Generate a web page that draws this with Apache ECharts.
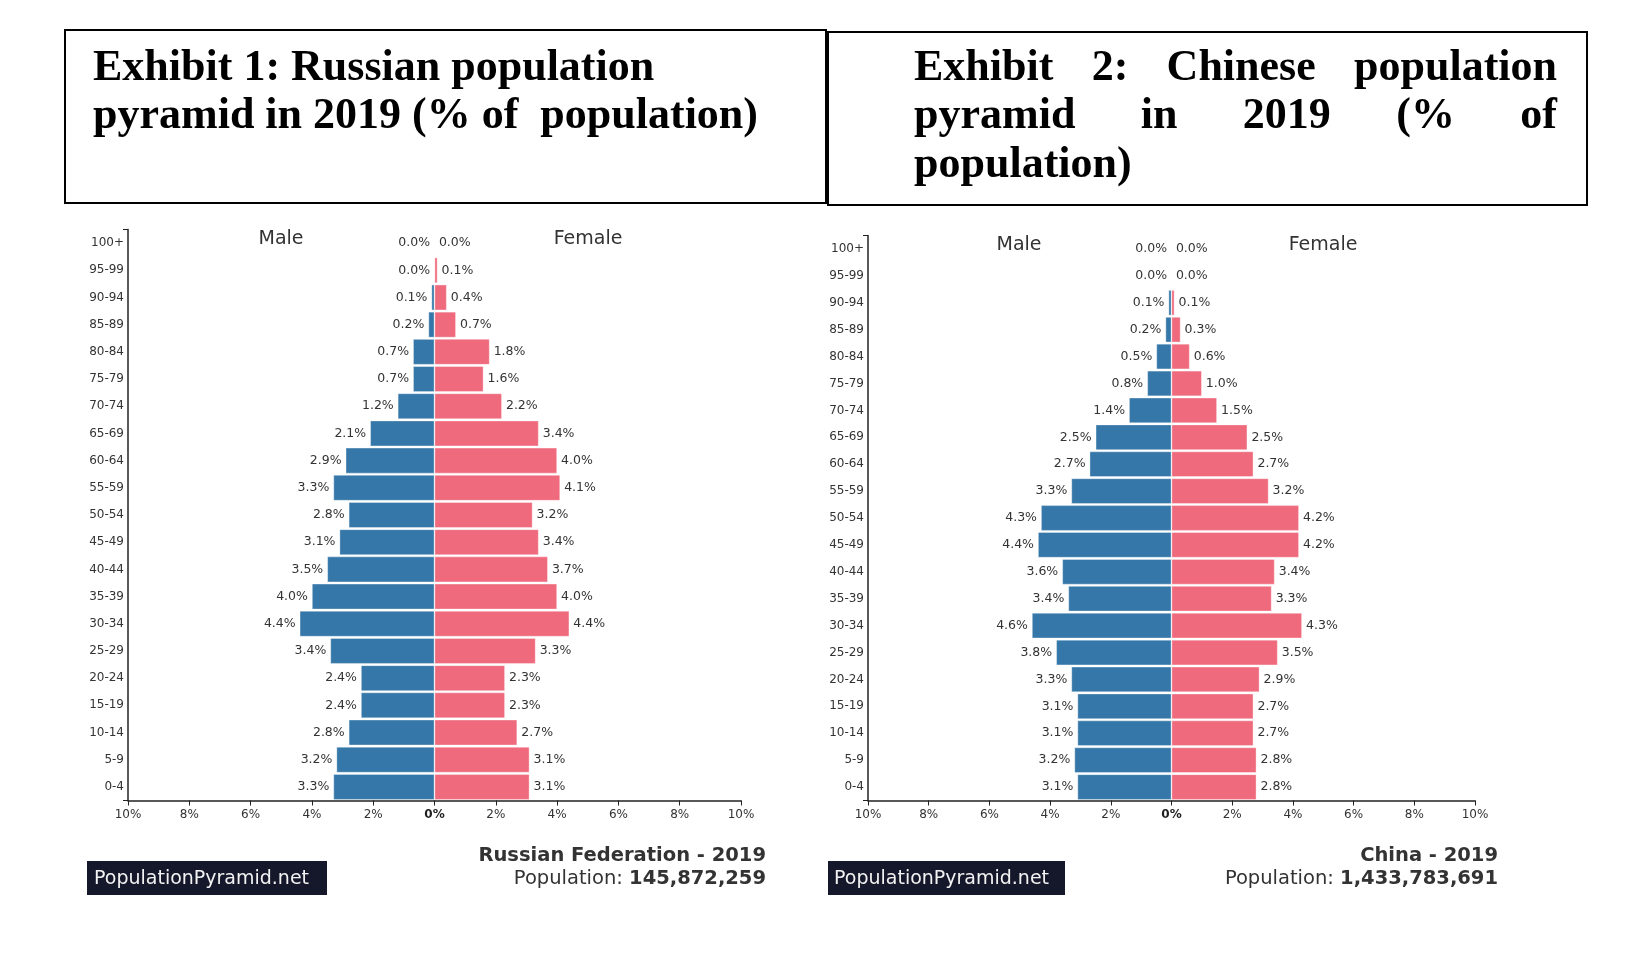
<!DOCTYPE html>
<html>
<head>
<meta charset="utf-8">
<title>Russian and Chinese population pyramids 2019</title>
<script src="https://cdn.jsdelivr.net/npm/echarts@6/dist/echarts.min.js"></script>
<style>
  html, body { margin: 0; padding: 0; background: #fff; }
  #main { width: 1642px; height: 968px; }
</style>
</head>
<body>
<div id="main"></div>
<script type="text/javascript">
  // age groups, bottom to top
  var ages = ['0-4', '5-9', '10-14', '15-19', '20-24', '25-29', '30-34', '35-39', '40-44', '45-49',
              '50-54', '55-59', '60-64', '65-69', '70-74', '75-79', '80-84', '85-89', '90-94', '95-99', '100+'];

  // % of population
  var ruMale   = [3.3, 3.2, 2.8, 2.4, 2.4, 3.4, 4.4, 4.0, 3.5, 3.1, 2.8, 3.3, 2.9, 2.1, 1.2, 0.7, 0.7, 0.2, 0.1, 0.0, 0.0];
  var ruFemale = [3.1, 3.1, 2.7, 2.3, 2.3, 3.3, 4.4, 4.0, 3.7, 3.4, 3.2, 4.1, 4.0, 3.4, 2.2, 1.6, 1.8, 0.7, 0.4, 0.1, 0.0];
  var cnMale   = [3.1, 3.2, 3.1, 3.1, 3.3, 3.8, 4.6, 3.4, 3.6, 4.4, 4.3, 3.3, 2.7, 2.5, 1.4, 0.8, 0.5, 0.2, 0.1, 0.0, 0.0];
  var cnFemale = [2.8, 2.8, 2.7, 2.7, 2.9, 3.5, 4.3, 3.3, 3.4, 4.2, 4.2, 3.2, 2.7, 2.5, 1.5, 1.0, 0.6, 0.3, 0.1, 0.0, 0.0];

  var countries = ['Russian Federation - 2019', 'China - 2019'];
  var populations = ['145,872,259', '1,433,783,691'];

  var MALE = '#3577a8';
  var FEMALE = '#ef6a7d';
  var INK = '#333';
  var SANS = '"DejaVu Sans"';
  var TITLE_FONT = 'bold 44px "Liberation Serif"';

  var chart = echarts.init(document.getElementById('main'));

  // word positions for a justified line
  function justify(words, left, right, y) {
    var ctx = document.createElement('canvas').getContext('2d');
    ctx.font = TITLE_FONT;
    var widths = words.map(function (w) { return ctx.measureText(w).width; });
    var total = widths.reduce(function (a, b) { return a + b; }, 0);
    var gap = (right - left - total) / (words.length - 1);
    var x = left;
    return words.map(function (w, i) {
      var el = titleText(w, x, y);
      x += widths[i] + gap;
      return el;
    });
  }

  function titleText(text, x, y) {
    return {
      type: 'text', x: x, y: y,
      style: { text: text, font: TITLE_FONT, fill: '#000', verticalAlign: 'middle', textVerticalAlign: 'middle' }
    };
  }

  function plainText(text, x, y, font, align, fill, rich) {
    return {
      type: 'text', x: x, y: y,
      style: {
        text: text, font: font, fill: fill || INK,
        align: align, textAlign: align,
        verticalAlign: 'middle', textVerticalAlign: 'middle',
        rich: rich
      }
    };
  }

  function pctLabel(v) {
    if (v === 0) return '{z|0%}';
    return Math.abs(v) + '%';
  }

  function xAxisFor(i) {
    return {
      type: 'value', gridIndex: i, min: -10, max: 10, interval: 2,
      axisLine: { onZero: false, lineStyle: { color: '#222', width: 1.5 } },
      axisTick: { length: 5, lineStyle: { color: '#222' } },
      splitLine: { show: false },
      axisLabel: {
        margin: 8, fontSize: 12, color: INK, fontFamily: SANS,
        formatter: pctLabel,
        rich: { z: { fontSize: 12, fontWeight: 'bold', color: '#222', fontFamily: SANS } }
      }
    };
  }

  function yAxesFor(i) {
    return [
      {
        type: 'category', gridIndex: i, data: ages,
        axisLine: { show: false, onZero: false },
        axisTick: { show: false },
        axisLabel: { margin: 4, fontSize: 12, color: INK, fontFamily: SANS }
      },
      {
        // only draws the spine with a tick at each end
        type: 'value', gridIndex: i, min: 0, max: 1, interval: 1, position: 'left',
        axisLine: { show: true, onZero: false, lineStyle: { color: '#222', width: 1.5 } },
        axisTick: { show: true, length: 5, lineStyle: { color: '#222' } },
        axisLabel: { show: false },
        splitLine: { show: false }
      }
    ];
  }

  function barLabel(pos) {
    return {
      show: true, position: pos, distance: 4,
      fontSize: 12.5, color: INK, fontFamily: SANS,
      formatter: function (p) { return Math.abs(p.value).toFixed(1) + '%'; }
    };
  }

  function pyramid(male, female, i) {
    return [
      {
        name: 'Male', type: 'bar', xAxisIndex: i, yAxisIndex: i * 2, stack: 'p' + i,
        barCategoryGap: '5%',
        data: male.map(function (v) { return -v; }),
        itemStyle: { color: MALE, borderColor: 'rgba(255,255,255,0.45)', borderWidth: 0.8 },
        label: barLabel('left')
      },
      {
        name: 'Female', type: 'bar', xAxisIndex: i, yAxisIndex: i * 2, stack: 'p' + i,
        barCategoryGap: '5%',
        data: female,
        itemStyle: { color: FEMALE, borderColor: 'rgba(255,255,255,0.45)', borderWidth: 0.8 },
        label: barLabel('right')
      }
    ];
  }

  var boldNum = { b: { font: 'bold 19.5px ' + SANS, fill: INK } };

  var graphics = [
    // exhibit boxes
    { type: 'rect', shape: { x: 65, y: 30, width: 761, height: 173 }, style: { fill: 'none', stroke: '#000', lineWidth: 2 } },
    { type: 'rect', shape: { x: 828, y: 32, width: 759, height: 173 }, style: { fill: 'none', stroke: '#000', lineWidth: 2 } },
    titleText('Exhibit 1: Russian population', 93, 69),
    titleText('pyramid in 2019 (% of  population)', 93, 117),
    titleText('population)', 914, 166),

    // sex headings
    plainText('Male', 281, 239, '19px ' + SANS, 'center'),
    plainText('Female', 588, 239, '19px ' + SANS, 'center'),
    plainText('Male', 1019, 245, '19px ' + SANS, 'center'),
    plainText('Female', 1323, 245, '19px ' + SANS, 'center'),

    // footers
    plainText(countries[0], 766, 856, 'bold 19.5px ' + SANS, 'right'),
    plainText('Population: {b|' + populations[0] + '}', 766, 879, '19.5px ' + SANS, 'right', INK, boldNum),
    plainText(countries[1], 1498, 856, 'bold 19.5px ' + SANS, 'right'),
    plainText('Population: {b|' + populations[1] + '}', 1498, 879, '19.5px ' + SANS, 'right', INK, boldNum),

    { type: 'rect', shape: { x: 87, y: 861, width: 240, height: 34 }, style: { fill: '#15172b' } },
    plainText('PopulationPyramid.net', 94, 879, '19px ' + SANS, 'left', '#f2f2f2'),
    { type: 'rect', shape: { x: 828, y: 861, width: 237, height: 34 }, style: { fill: '#15172b' } },
    plainText('PopulationPyramid.net', 834, 879, '19px ' + SANS, 'left', '#f2f2f2')
  ]
    .concat(justify(['Exhibit', '2:', 'Chinese', 'population'], 914, 1557, 69))
    .concat(justify(['pyramid', 'in', '2019', '(%', 'of'], 914, 1557, 117));

  var option = {
    animation: false,
    backgroundColor: '#fff',
    grid: [
      { left: 128, top: 229.5, width: 613, height: 571 },
      { left: 868, top: 235.5, width: 607, height: 565 }
    ],
    xAxis: [xAxisFor(0), xAxisFor(1)],
    yAxis: yAxesFor(0).concat(yAxesFor(1)),
    series: pyramid(ruMale, ruFemale, 0).concat(pyramid(cnMale, cnFemale, 1)),
    graphic: graphics
  };

  chart.setOption(option);
</script>
</body>
</html>
